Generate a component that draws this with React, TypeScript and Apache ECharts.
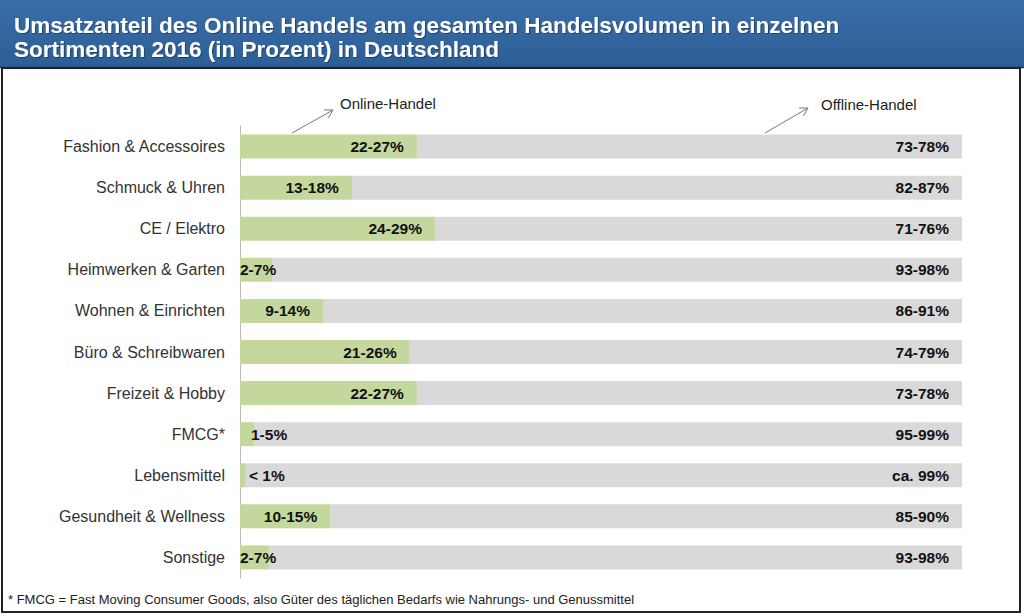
import React, { useEffect, useRef } from "react";
import * as echarts from "echarts";

const categories = [
  "Fashion & Accessoires",
  "Schmuck & Uhren",
  "CE / Elektro",
  "Heimwerken & Garten",
  "Wohnen & Einrichten",
  "Büro & Schreibwaren",
  "Freizeit & Hobby",
  "FMCG*",
  "Lebensmittel",
  "Gesundheit & Wellness",
  "Sonstige",
];
const onlineValues = [24.5, 15.5, 27, 4.5, 11.5, 23.5, 24.5, 2, 0.8, 12.5, 4];
const offlineValues = [75.5, 84.5, 73, 95.5, 88.5, 76.5, 75.5, 98, 99.2, 87.5, 96];
const onlineLabels = ["22-27%", "13-18%", "24-29%", "2-7%", "9-14%", "21-26%", "22-27%", "1-5%", "< 1%", "10-15%", "2-7%"];
const offlineLabels = ["73-78%", "82-87%", "71-76%", "93-98%", "86-91%", "74-79%", "73-78%", "95-99%", "ca. 99%", "85-90%", "93-98%"];
// label start offsets for short bars (text placed left-aligned from bar start)
const smallLabelOffsets: Record<number, number> = { 3: 0, 7: 11, 8: 9, 10: 0 };

const titleText =
  "Umsatzanteil des Online Handels am gesamten Handelsvolumen in einzelnen\nSortimenten 2016 (in Prozent) in Deutschland";
const footnote =
  "* FMCG = Fast Moving Consumer Goods, also Güter des täglichen Bedarfs wie Nahrungs- und Genussmittel";

const FONT = "'Liberation Sans', Arial, sans-serif";

function arrow(x1: number, y1: number, x2: number, y2: number) {
  const dx = x2 - x1;
  const dy = y2 - y1;
  const len = Math.hypot(dx, dy);
  const ux = -dx / len;
  const uy = -dy / len;
  const h = 9;
  const c = Math.cos(Math.PI / 6);
  const s = Math.sin(Math.PI / 6);
  const a1 = [x2 + h * (ux * c - uy * s), y2 + h * (ux * s + uy * c)];
  const a2 = [x2 + h * (ux * c + uy * s), y2 + h * (-ux * s + uy * c)];
  return [
    { type: "line", shape: { x1, y1, x2, y2 }, style: { stroke: "#777", lineWidth: 1 } },
    { type: "polyline", shape: { points: [a1, [x2, y2], a2] }, style: { stroke: "#777", lineWidth: 1, fill: null } },
  ];
}

export default function App() {
  const ref = useRef<HTMLDivElement>(null);
  useEffect(() => {
    if (!ref.current) return;
    const chart = echarts.init(ref.current, null, { renderer: "svg" });
    const onlineData = onlineValues.map((v, i) => {
      const item: any = { value: v };
      if (smallLabelOffsets[i] !== undefined) {
        item.label = { position: [smallLabelOffsets[i], "50%"], align: "left", verticalAlign: "middle" };
      }
      return item;
    });
    chart.setOption({
      animation: false,
      backgroundColor: "#ffffff",
      title: {
        text: titleText,
        left: 9,
        top: 8,
        textStyle: {
          color: "#ffffff",
          fontSize: 22.5,
          fontWeight: "bold",
          fontFamily: FONT,
          lineHeight: 24,
          textShadowColor: "rgba(0,0,0,0.35)",
          textShadowBlur: 1,
          textShadowOffsetX: 1,
          textShadowOffsetY: 1,
        },
      },
      grid: { left: 240, top: 126, width: 722, height: 452, containLabel: false },
      xAxis: { type: "value", min: 0, max: 100, show: false },
      yAxis: {
        type: "category",
        data: categories,
        inverse: true,
        axisLine: { show: true, lineStyle: { color: "#bcbcb0", width: 1 } },
        axisTick: { show: false },
        axisLabel: { color: "#333", fontSize: 16, fontFamily: FONT, margin: 15 },
        splitLine: { show: false },
      },
      series: [
        {
          name: "Online-Handel",
          type: "bar",
          stack: "total",
          barWidth: 24,
          z: 3,
          itemStyle: { color: "#c4d79c" },
          data: onlineData,
          label: {
            show: true,
            position: "insideRight",
            distance: 13,
            color: "#111",
            fontSize: 15.5,
            fontWeight: "bold",
            fontFamily: FONT,
            formatter: (p: any) => onlineLabels[p.dataIndex],
          },
        },
        {
          name: "Offline-Handel",
          type: "bar",
          stack: "total",
          barWidth: 24,
          z: 2,
          itemStyle: { color: "#d9d9d9" },
          data: offlineValues,
          label: {
            show: true,
            position: "insideRight",
            distance: 13,
            color: "#111",
            fontSize: 15.5,
            fontWeight: "bold",
            fontFamily: FONT,
            formatter: (p: any) => offlineLabels[p.dataIndex],
          },
        },
      ],
      graphic: [
        {
          type: "rect",
          z: -1,
          shape: { x: 0, y: 0, width: 1024, height: 67 },
          style: {
            fill: new echarts.graphic.LinearGradient(0, 0, 0, 1, [
              { offset: 0, color: "#3a6ea8" },
              { offset: 1, color: "#2d5e96" },
            ]),
          },
        },
        {
          type: "line",
          shape: { x1: 0, y1: 67.5, x2: 1024, y2: 67.5 },
          style: { stroke: "#1f3550", lineWidth: 1.5 },
        },
        {
          type: "rect",
          shape: { x: 2, y: 68, width: 1018, height: 544 },
          style: { fill: null, stroke: "#222", lineWidth: 2 },
        },
        ...arrow(292, 133, 333, 110),
        ...arrow(765, 133, 808, 108),
        {
          type: "text",
          x: 340,
          y: 103,
          style: { text: "Online-Handel", fill: "#222", fontSize: 15, fontFamily: FONT, verticalAlign: "middle" },
        },
        {
          type: "text",
          x: 821,
          y: 104,
          style: { text: "Offline-Handel", fill: "#222", fontSize: 15, fontFamily: FONT, verticalAlign: "middle" },
        },
        {
          type: "text",
          x: 8,
          y: 599,
          style: { text: footnote, fill: "#222", fontSize: 13, fontFamily: FONT, verticalAlign: "middle" },
        },
      ],
    });
    return () => chart.dispose();
  }, []);
  return (
    <div
      ref={ref}
      style={{ position: "fixed", left: 0, top: 0, width: 1024, height: 616 }}
    />
  );
}
